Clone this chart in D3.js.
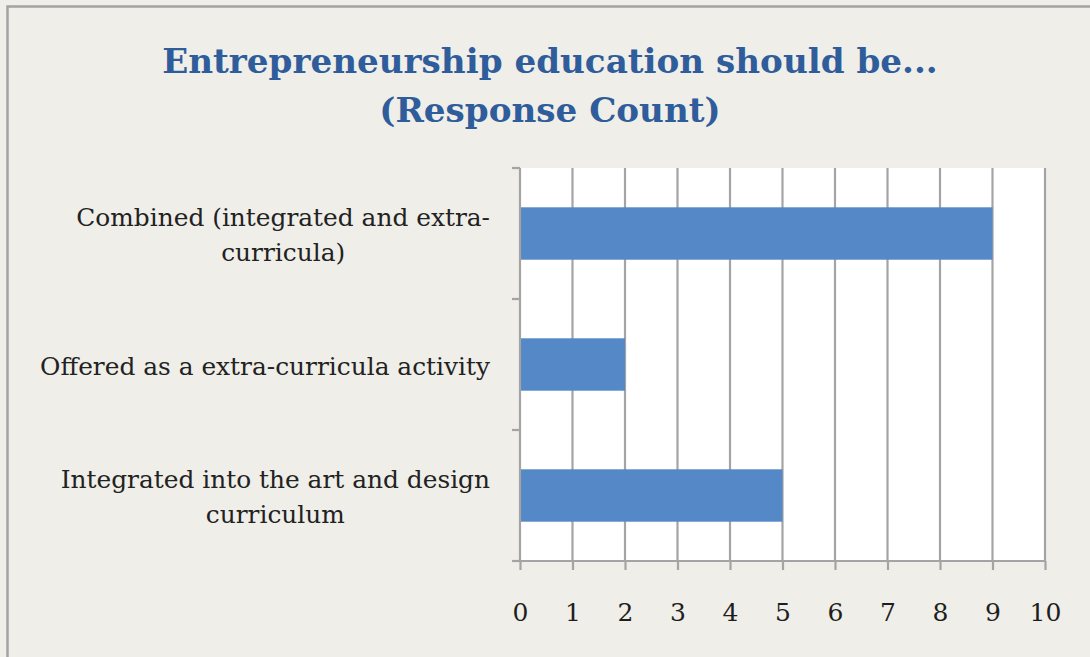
<!DOCTYPE html>
<html>
<head>
<meta charset="utf-8">
<script src="https://cdn.jsdelivr.net/npm/d3@7"></script>
<style>
  html, body { margin: 0; padding: 0; background: #efeee8; }
  svg { display: block; }
</style>
</head>
<body>
<svg id="chart" width="1090" height="657"></svg>
<script>
// Chart data
const categories = [
  ["Combined (integrated and extra-", "curricula)"],
  ["Offered as a extra-curricula activity"],
  ["Integrated into the art and design", "curriculum"]
];
const counts = [9, 2, 5];
const xTicks = [0, 1, 2, 3, 4, 5, 6, 7, 8, 9, 10];
const titleLines = ["Entrepreneurship education should be...", "(Response Count)"];

const W = 1090, H = 657;
const plot = { left: 520, right: 1045, top: 168, bottom: 561 };
const serif = "'DejaVu Serif', 'Liberation Serif', serif";
const gridColor = "#a4a4a6";

const svg = d3.select("#chart");

// Frame and background
svg.append("rect").attr("x", 0).attr("y", 0).attr("width", W).attr("height", H).attr("fill", "#efeee8");
svg.append("rect").attr("x", 7.5).attr("y", 6.5).attr("width", W + 20).attr("height", H + 20)
  .attr("fill", "none").attr("stroke", "#a3a3a3").attr("stroke-width", 2.5);

// Scale a text element's font size so that it spans the given width
function fitWidth(sel, target) {
  const node = sel.node();
  const w = node.getComputedTextLength();
  const fs = parseFloat(sel.attr("font-size"));
  sel.attr("font-size", fs * target / w);
  return fs * target / w;
}

// Title
const t1 = svg.append("text").attr("x", 550).attr("y", 73).attr("text-anchor", "middle")
  .attr("font-family", serif).attr("font-weight", "bold").attr("font-size", 36)
  .attr("fill", "#2f5d9c").text(titleLines[0]);
const titleSize = fitWidth(t1, 776);
svg.append("text").attr("x", 550).attr("y", 122).attr("text-anchor", "middle")
  .attr("font-family", serif).attr("font-weight", "bold").attr("font-size", titleSize)
  .attr("fill", "#2f5d9c").text(titleLines[1]);

// Scales
const x = d3.scaleLinear().domain([0, 10]).range([plot.left, plot.right]);
const y = d3.scaleBand().domain(d3.range(categories.length))
  .range([plot.top, plot.bottom]).paddingInner(0.6).paddingOuter(0.3);

// Plot area
svg.append("rect").attr("x", plot.left).attr("y", plot.top)
  .attr("width", plot.right - plot.left).attr("height", plot.bottom - plot.top).attr("fill", "#ffffff");

// Vertical gridlines
svg.append("g").selectAll("line").data(xTicks.filter(d => d > 0)).join("line")
  .attr("x1", d => x(d)).attr("x2", d => x(d))
  .attr("y1", plot.top).attr("y2", plot.bottom)
  .attr("stroke", gridColor).attr("stroke-width", 2.2);

// Bars
svg.append("g").selectAll("rect").data(counts).join("rect")
  .attr("x", x(0)).attr("y", (d, i) => y(i))
  .attr("width", d => x(d) - x(0)).attr("height", y.bandwidth())
  .attr("fill", "#5588c6");

// Category axis with ticks on band boundaries
const bounds = d3.range(categories.length + 1).map(i => plot.top + i * (plot.bottom - plot.top) / categories.length);
svg.append("line").attr("x1", plot.left).attr("x2", plot.left)
  .attr("y1", plot.top).attr("y2", plot.bottom).attr("stroke", gridColor).attr("stroke-width", 2.2);
svg.append("g").selectAll("line").data(bounds).join("line")
  .attr("x1", plot.left - 8).attr("x2", plot.left)
  .attr("y1", d => d).attr("y2", d => d)
  .attr("stroke", gridColor).attr("stroke-width", 2.2);

// Value axis
const xAxis = svg.append("g").attr("transform", `translate(0,${plot.bottom})`)
  .call(d3.axisBottom(x).tickValues(xTicks).tickSize(9).tickPadding(30).tickFormat(d3.format("d")));
xAxis.select(".domain").attr("stroke", gridColor).attr("stroke-width", 2.2)
  .attr("d", `M${plot.left - 8},0H${plot.right}`);
xAxis.selectAll(".tick line").attr("stroke", gridColor).attr("stroke-width", 2.2);
xAxis.selectAll(".tick text").attr("font-family", serif).attr("font-size", 25)
  .attr("fill", "#1e1e1e").attr("dy", 0).attr("y", 60);

// Category labels: lines centered within a block right-aligned next to the axis
const labelRight = 490;
const lineGap = 35;
const probe = svg.append("text").attr("font-family", serif).attr("font-size", 20).text(categories[1][0]);
const labelSize = fitWidth(probe, 450);
probe.remove();

categories.forEach((lines, i) => {
  const g = svg.append("g");
  const texts = lines.map(s => g.append("text").attr("font-family", serif)
    .attr("font-size", labelSize).attr("fill", "#222").text(s));
  const widths = texts.map(t => t.node().getComputedTextLength());
  const blockW = d3.max(widths);
  const cx = labelRight - blockW / 2;
  const center = y(i) + y.bandwidth() / 2;
  const firstBase = center + 10 - (lines.length - 1) * lineGap / 2;
  texts.forEach((t, k) => t.attr("x", cx).attr("y", firstBase + k * lineGap).attr("text-anchor", "middle"));
});
</script>
</body>
</html>
